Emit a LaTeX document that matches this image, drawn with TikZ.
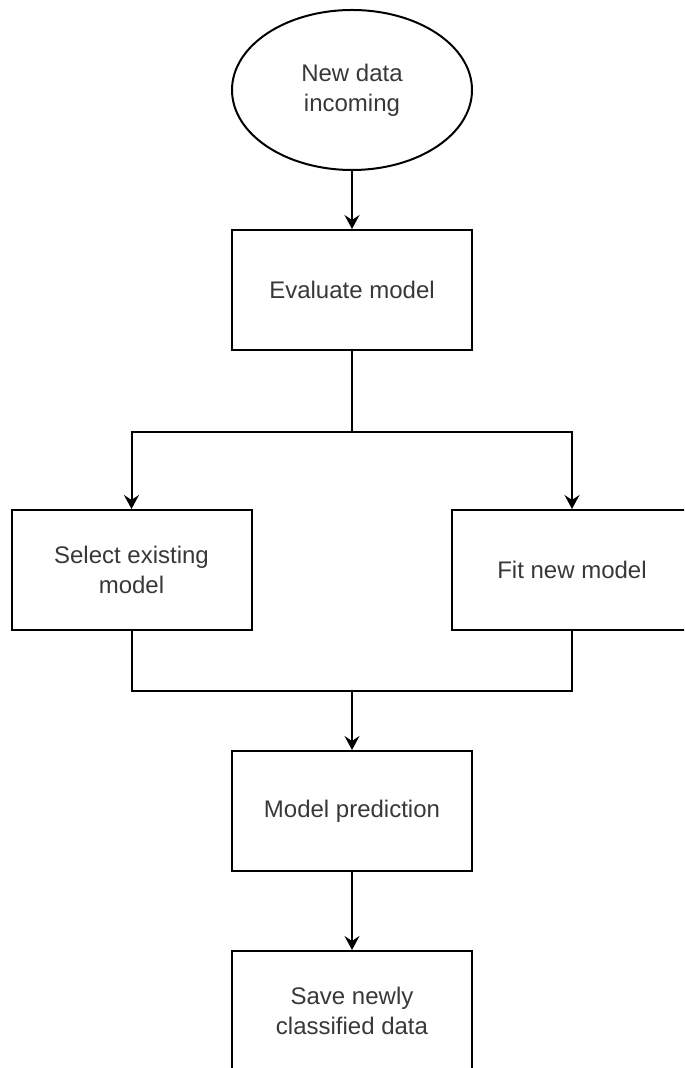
\documentclass[tikz,border=0pt]{standalone}
\usepackage{fontspec}
\setmainfont{Liberation Sans}
\usetikzlibrary{shapes.geometric,arrows.meta}

\begin{document}
\begin{tikzpicture}[x=0.5pt, y=-0.5pt, line width=1pt,
	box/.style={draw, minimum width=120pt, minimum height=60pt, inner sep=0pt, align=center, text=black!78, font=\fontsize{12}{15}\selectfont},
	start/.style={box, ellipse, minimum height=80pt},
	flow/.style={-{Stealth[length=7pt, width=7.5pt, inset=2.5pt]}}]
	\useasboundingbox (0,0) rectangle (684,1068);
	\clip (0,0) rectangle (684,1068);
	\node[start] (incoming) at (352,90) {New data\\incoming};
	\node[box] (evaluate) at (352,290) {Evaluate model};
	\node[box] (select) at (131.5,570) {Select existing\\model};
	\node[box] (fit) at (572,570) {Fit new model};
	\node[box] (predict) at (352,811) {Model prediction};
	\node[box] (save) at (352,1011) {Save newly\\classified data};
	\coordinate (join) at (352,691);
	\path[flow]
		(incoming) edge (evaluate)
		(join) edge (predict)
		(predict) edge (save);
	\draw[flow] (evaluate.south) -- ++(0,81) -| (select.north);
	\draw[flow] (evaluate.south) -- ++(0,81) -| (fit.north);
	\draw (select.south) |- (join) -| (fit.south);
\end{tikzpicture}
\end{document}
